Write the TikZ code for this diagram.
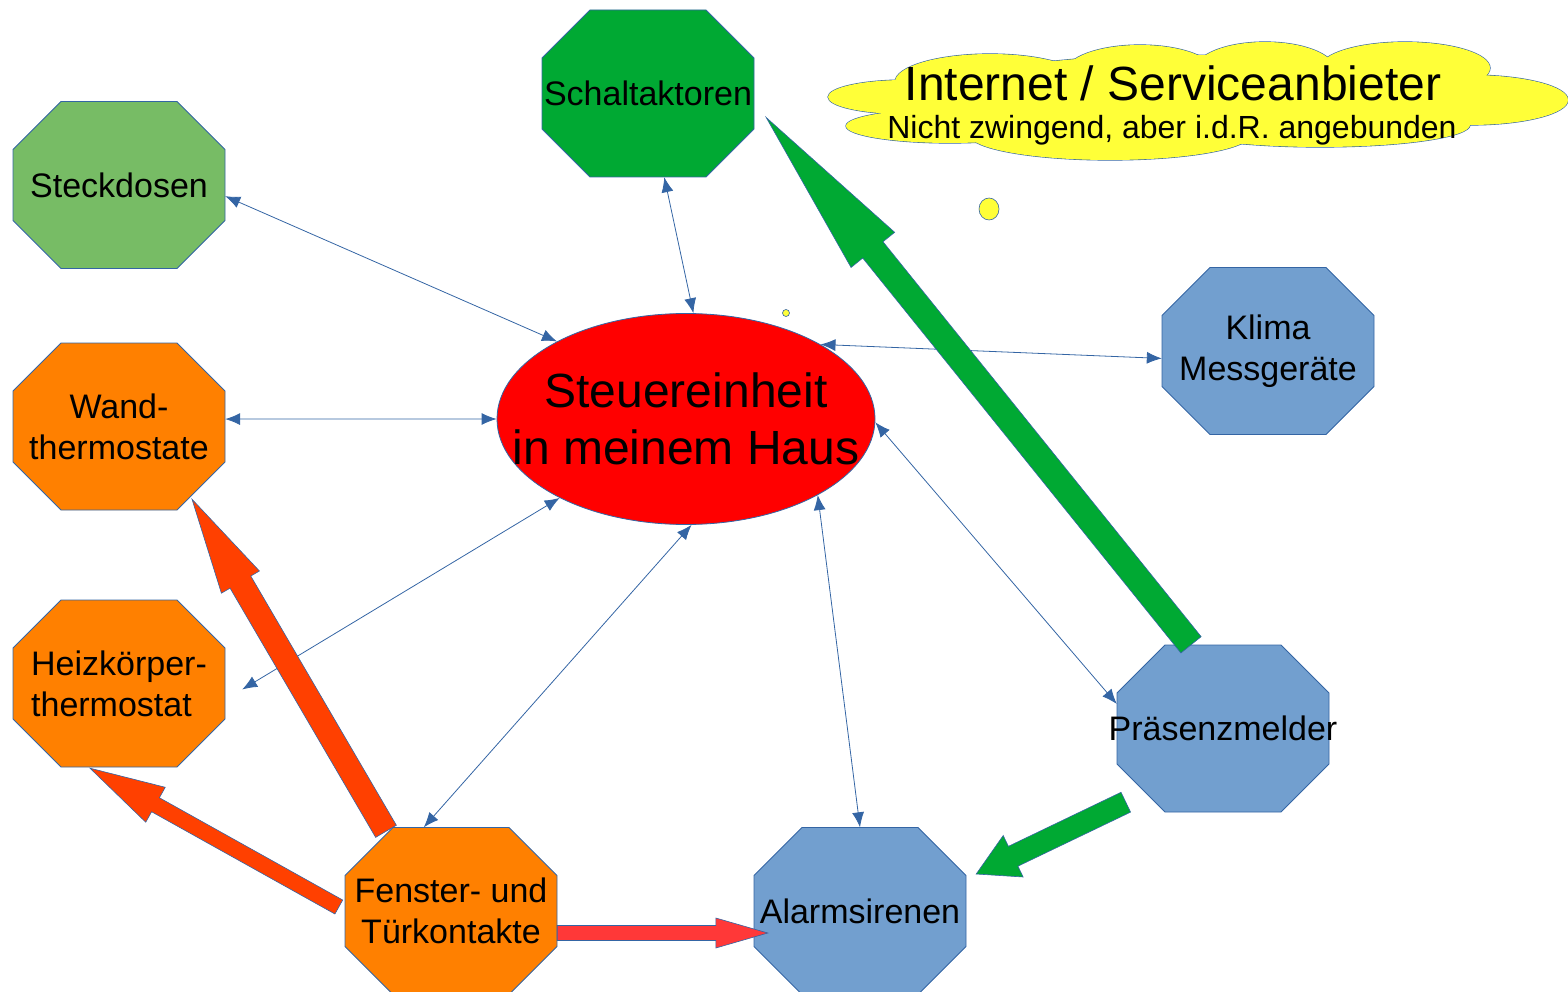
\documentclass[tikz,border=0pt]{standalone}
\usepackage{fontspec}
\setmainfont{Liberation Sans}
\usetikzlibrary{positioning,shapes.geometric,calc,arrows.meta,backgrounds}
\definecolor{lineblue}{HTML}{3465A4}
\definecolor{schaltgreen}{HTML}{00A933}
\definecolor{steckgreen}{HTML}{77BC65}
\definecolor{thermorange}{HTML}{FF8000}
\definecolor{sensorblue}{HTML}{729FCF}
\definecolor{cloudyellow}{HTML}{FFFF38}
\definecolor{hotorange}{HTML}{FF4000}
\definecolor{alarmred}{HTML}{FF3838}
\tikzset{>={Latex[length=15pt,width=12pt]}}

\begin{document}
\begin{tikzpicture}[x=1pt, y=-1pt,
            device/.style={minimum width=212pt, minimum height=167pt, inner sep=0pt,
                align=center, font=\fontsize{34}{41}\selectfont},
            link/.style={<->, draw=lineblue, line width=0.8pt},
            block/.style={draw=lineblue, line width=0.6pt}
        ]
        \useasboundingbox (0,0) rectangle (1568,992);
        % devices
        \node[device] (schalt) at (648,93.5) {Schaltaktoren};
        \node[device] (steck) at (119,185) {Steckdosen};
        \node[device] (wand) at (119,426.5) {Wand-\\thermostate};
        \node[device, align=left] (heiz) at (119,683.5) {Heizkörper-\\thermostat};
        \node[device] (fenster) at (451,911) {Fenster- und\\Türkontakte};
        \node[device] (alarm) at (860,911) {Alarmsirenen};
        \node[device, inner xsep=-10pt] (praes) at (1223,728.5) {Präsenzmelder};
        \node[device] (klima) at (1268,351) {Klima\\Messgeräte};
        \begin{scope}[on background layer]
            \foreach \n/\col in {schalt/schaltgreen, steck/steckgreen, wand/thermorange, heiz/thermorange,
                fenster/thermorange, alarm/sensorblue, praes/sensorblue, klima/sensorblue} {
                \filldraw[shift={(\n.center)}, fill=\col, draw=lineblue, line width=0.8pt]
                    (-58,-83.5) -- (58,-83.5) -- (106,-35.5) -- (106,35.5) -- (58,83.5) -- (-58,83.5)
                    -- (-106,35.5) -- (-106,-35.5) -- cycle;
            }
        \end{scope}
        % control unit
        \node[ellipse, draw=lineblue, line width=0.8pt, fill=red, minimum width=378pt, minimum height=211pt,
            inner sep=0pt] (ctrl) at (686,419) {};
        \node[align=center, font=\fontsize{48}{57}\selectfont] (ctrltext) at (ctrl.center) {Steuereinheit\\in meinem Haus};
        % cloud
        \foreach \cx/\cy/\rx/\ry in {905/97/77/17, 950/126/104/17, 1110/135/140/25, 1320/125/150/22,
            1470/100/98/25, 1405/68/85/26, 1265/70/70/28, 1140/73/75/28, 990/82/95/28, 1180/100/250/45} {
            \draw[draw=lineblue, line width=1.2pt] (\cx,\cy) ellipse [x radius=\rx, y radius=\ry];
        }
        \foreach \cx/\cy/\rx/\ry in {905/97/77/17, 950/126/104/17, 1110/135/140/25, 1320/125/150/22,
            1470/100/98/25, 1405/68/85/26, 1265/70/70/28, 1140/73/75/28, 990/82/95/28, 1180/100/250/45} {
            \fill[cloudyellow] (\cx,\cy) ellipse [x radius=\rx, y radius=\ry];
        }
        \node[font=\fontsize{48}{57}\selectfont] (inet) at (1173,83) {Internet / Serviceanbieter};
        \node[font=\fontsize{32}{38}\selectfont] (inetsub) at (1172,130) {Nicht zwingend, aber i.d.R. angebunden};
        \draw[lineblue, line width=0.6pt, fill=cloudyellow] (989,209) ellipse [x radius=10, y radius=11];
        \draw[lineblue, line width=0.6pt, fill=cloudyellow] (786,313) circle [radius=3.5];
        % links to the control unit
        \draw[link] (steck.-6) -- (ctrl.149.5);
        \draw[link] (schalt.-79.5) -- (ctrl.86);
        \draw[link] (klima.-176.3) -- (ctrl.29.3);
        \draw[link] (wand.4) -- (ctrl.west);
        \draw[link] ([shift={(17,6)}]heiz.east) -- (ctrl.-148.8);
        \draw[link] (fenster.108) -- (ctrl.-87);
        \draw[link] (alarm.north) -- (ctrl.-30.3);
        \draw[link] (praes.167.5) -- (ctrl.-1);
        % direct triggers
        \coordinate (gbigs) at ([xshift=-32pt]praes.north);
        \coordinate (gbige) at ([shift={(12,24)}]schalt.east);
        \coordinate (gsmalls) at ([shift={(9,-10)}]praes.south west);
        \coordinate (gsmalle) at ([shift={(10,-37)}]alarm.east);
        \coordinate (owands) at ([shift={(-65,4)}]fenster.north);
        \coordinate (owande) at ([shift={(73,-11)}]wand.south);
        \coordinate (oheizs) at ([shift={(-6,-4)}]fenster.west);
        \coordinate (oheize) at ([shift={(-29,1)}]heiz.south);
        \coordinate (ralarms) at ([shift={(0,22)}]fenster.east);
        \coordinate (ralarme) at ([shift={(14,22)}]alarm.west);
        \foreach \from/\to/\sw/\hl/\hw/\col in {gbigs/gbige/13/170/28/schaltgreen, gsmalls/gsmalle/11/41/23/schaltgreen,
            owands/owande/12/96/22/hotorange, oheizs/oheize/8/75/20/hotorange, ralarms/ralarme/7.5/52/15/alarmred} {
            \coordinate (hb) at ($(\to)!\hl pt!(\from)$);
            \filldraw[block, fill=\col] ($(\from)!\sw pt!90:(\to)$) -- ($(hb)!\sw pt!90:(\to)$) -- ($(hb)!\hw pt!90:(\to)$)
                -- (\to) -- ($(hb)!\hw pt!-90:(\to)$) -- ($(hb)!\sw pt!-90:(\to)$) -- ($(\from)!\sw pt!-90:(\to)$) -- cycle;
        }
        \end{tikzpicture}
\end{document}
